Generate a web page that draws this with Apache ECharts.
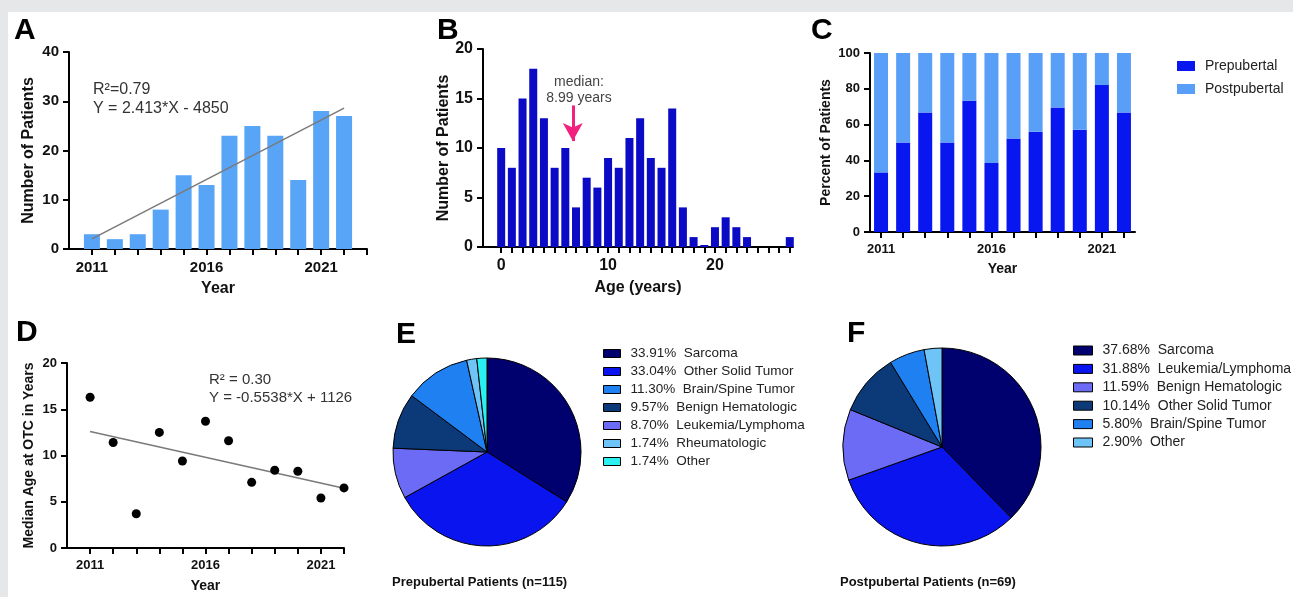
<!DOCTYPE html>
<html><head><meta charset="utf-8">
<script src="https://cdn.jsdelivr.net/npm/echarts@6/dist/echarts.min.js"></script>
<style>html,body{margin:0;padding:0;background:#fff}#c{width:1293px;height:597px}</style>
</head><body><div id="c"></div>
<script>
// ---------- data ----------
const years = [2011,2012,2013,2014,2015,2016,2017,2018,2019,2020,2021,2022];
const patientsPerYear = [3,2,3,8,15,13,23,25,23,14,28,27];
const ages = [0,1,2,3,4,5,6,7,8,9,10,11,12,13,14,15,16,17,18,19,20,21,22,23,24,25,26,27];
const ageCounts = [10,8,15,18,13,8,10,4,7,6,9,8,11,13,9,8,14,4,1,0.2,2,3,2,1,0,0,0,1];
const prepubertalPct = [33.3,50,66.7,50,73.3,38.5,52.2,56,69.6,57.1,82.1,66.7];
const postpubertalPct = [66.7,50,33.3,50,26.7,61.5,47.8,44,30.4,42.9,17.9,33.3];
const medianAge = [16.3,11.4,3.7,12.5,9.4,13.7,11.6,7.1,8.4,8.3,5.4,6.5];
const yearTicks = [2011,2012,2013,2014,2015,2016,2017,2018,2019,2020,2021,2022,2023];
const yearTickLabels = [2011,2016,2021];
const ageTickLabels = [0,10,20];
const medianArrowAge = 6.7;

const preCats = ['Sarcoma','Other Solid Tumor','Leukemia/Lymphoma','Benign Hematologic','Brain/Spine Tumor','Rheumatologic','Other'];
const prePct = [33.91,33.04,8.70,9.57,11.30,1.74,1.74];
const preColors = ['#00006e','#0a14ef','#6b6bf5','#0c3a78','#1f80f2','#6ec4f6','#2af0f2'];
const preLegendOrder = ['Sarcoma','Other Solid Tumor','Brain/Spine Tumor','Benign Hematologic','Leukemia/Lymphoma','Rheumatologic','Other'];

const postCats = ['Sarcoma','Leukemia/Lymphoma','Benign Hematologic','Other Solid Tumor','Brain/Spine Tumor','Other'];
const postPct = [37.68,31.88,11.59,10.14,5.80,2.90];
const postColors = ['#00006e','#0a14ef','#6b6bf5','#0c3a78','#1f80f2','#6ec4f6'];

// ---------- helpers ----------
const FF = 'Arial, "Liberation Sans", Helvetica, sans-serif';
function linreg(xs, ys){
  const n = xs.length; let mx=0,my=0; for(let i=0;i<n;i++){mx+=xs[i];my+=ys[i];} mx/=n; my/=n;
  let sxy=0,sxx=0; for(let i=0;i<n;i++){sxy+=(xs[i]-mx)*(ys[i]-my); sxx+=(xs[i]-mx)*(xs[i]-mx);}
  const b = sxy/sxx; return [b, my-b*mx];
}
const [aS,aI] = linreg(years, patientsPerYear);
const [dS,dI] = linreg(years, medianAge);
const x0 = years[0], x1 = years[years.length-1];

const axLine = {show:true, onZero:false, lineStyle:{color:'#000', width:2}};
const nameStyle = (nfs)=>({color:'#111', fontWeight:'bold', fontSize:nfs, fontFamily:FF});
function xAx(grid, min, max, ticks, labels, name, gap, fs, nfs){
  return {gridIndex:grid, type:'value', min:min, max:max,
    axisLine:axLine,
    axisTick:{show:true, customValues:ticks, length:6, lineStyle:{color:'#000', width:2}},
    axisLabel:{customValues:labels, formatter:v=>String(v), color:'#111', fontWeight:'bold', fontSize:fs, fontFamily:FF, margin:11},
    splitLine:{show:false},
    name:name, nameLocation:'middle', nameGap:gap, nameTextStyle:nameStyle(nfs)};
}
function yAx(grid, min, max, interval, name, gap, fs, nfs){
  return {gridIndex:grid, type:'value', min:min, max:max, interval:interval,
    axisLine:axLine,
    axisTick:{show:true, length:6, lineStyle:{color:'#000', width:2}},
    axisLabel:{formatter:v=>String(v), color:'#111', fontWeight:'bold', fontSize:fs, fontFamily:FF, margin:10},
    splitLine:{show:false},
    name:name, nameLocation:'middle', nameGap:gap, nameTextStyle:nameStyle(nfs)};
}
const zip = (a,b)=>a.map((v,i)=>[v,b[i]]);

const preLabel = {}; preCats.forEach((c,i)=>{preLabel['E|'+c] = prePct[i].toFixed(2)+'%  '+c;});
const postLabel = {}; postCats.forEach((c,i)=>{postLabel['F|'+c] = postPct[i].toFixed(2)+'%  '+c;});

function txt(x,y,s,size,weight,color,align){
  return {type:'text', x:x, y:y, z:100, style:{text:s, fontSize:size, fontWeight:weight||'normal', fontFamily:FF, fill:color||'#000', align:align||'left', verticalAlign:'middle'}};
}

const catYearAxis = {gridIndex:2, type:'category', data:years.map(String), boundaryGap:true,
  axisLine:axLine,
  axisTick:{show:true, alignWithLabel:true, interval:0, length:6, lineStyle:{color:'#000', width:2}},
  axisLabel:{interval:(i,v)=>yearTickLabels.indexOf(Number(v))>=0, color:'#111', fontWeight:'bold', fontSize:13, fontFamily:FF, margin:11},
  splitLine:{show:false},
  name:'Year', nameLocation:'middle', nameGap:30, nameTextStyle:nameStyle(14)};

const option = {
  backgroundColor:'#ffffff',
  animation:false,
  grid:[
    {left:69, top:52, width:298, height:197, outerBoundsMode:'none', containLabel:false},
    {left:483, top:49, width:310, height:198, outerBoundsMode:'none', containLabel:false},
    {left:870, top:53, width:265, height:179, outerBoundsMode:'none', containLabel:false},
    {left:67, top:363, width:277, height:185, outerBoundsMode:'none', containLabel:false}
  ],
  xAxis:[
    xAx(0, 2010, 2023, yearTicks, yearTickLabels, 'Year', 32, 15, 16),
    xAx(1, -1.7, 27.3, ages, ageTickLabels, 'Age (years)', 33, 16, 16),
    catYearAxis,
    xAx(3, 2010, 2022, yearTicks.slice(0,12), yearTickLabels, 'Year', 31, 13, 14)
  ],
  yAxis:[
    yAx(0, 0, 40, 10, 'Number of Patients', 32, 15, 16),
    yAx(1, 0, 20, 5, 'Number of Patients', 28, 16, 16),
    yAx(2, 0, 100, 20, 'Percent of Patients', 37, 13, 14),
    yAx(3, 0, 20, 5, 'Median Age at OTC in Years', 31, 13, 14)
  ],
  legend:[
    {data:['Prepubertal','Postpubertal'], orient:'vertical', left:1177, top:58, padding:0, itemWidth:18, itemHeight:10, itemGap:7,
     icon:'rect', textStyle:{fontSize:14, fontFamily:FF, color:'#222', lineHeight:16, padding:[0,0,0,5]}, selectedMode:false},
    {data:preLegendOrder.map(c=>'E|'+c), orient:'vertical', left:603, top:346, padding:0, itemWidth:17, itemHeight:8, itemGap:3,
     icon:'rect', formatter:n=>preLabel[n], itemStyle:{borderColor:'#000', borderWidth:1},
     textStyle:{fontSize:13.5, fontFamily:FF, color:'#222', lineHeight:15, padding:[0,0,0,5]}, selectedMode:false},
    {data:postCats.map(c=>'F|'+c), orient:'vertical', left:1073, top:343, padding:0, itemWidth:19, itemHeight:9, itemGap:3.4,
     icon:'rect', formatter:n=>postLabel[n], itemStyle:{borderColor:'#000', borderWidth:1},
     textStyle:{fontSize:14, fontFamily:FF, color:'#222', lineHeight:15, padding:[0,0,0,5]}, selectedMode:false}
  ],
  series:[
    {type:'bar', xAxisIndex:0, yAxisIndex:0, data:zip(years, patientsPerYear), barWidth:16,
     itemStyle:{color:'#58a4f7'}, silent:true},
    {type:'line', xAxisIndex:0, yAxisIndex:0, data:[[x0, aS*x0+aI],[x1, aS*x1+aI]], symbol:'none',
     lineStyle:{color:'#7a7a7a', width:1.5}, silent:true, z:5},
    {type:'bar', xAxisIndex:1, yAxisIndex:1, data:zip(ages, ageCounts), barWidth:8,
     itemStyle:{color:'#0b0bc6'}, silent:true,
     markLine:{silent:true, symbol:['none','arrow'], symbolSize:[15,18], animation:false,
       lineStyle:{color:'#f2207e', width:3, type:'solid'}, label:{show:false},
       data:[[{coord:[medianArrowAge,14.3]},{coord:[medianArrowAge,10.7]}]]}},
    {type:'bar', name:'Prepubertal', xAxisIndex:2, yAxisIndex:2, stack:'c', data:prepubertalPct, barWidth:14,
     itemStyle:{color:'#0816f0'}, silent:true},
    {type:'bar', name:'Postpubertal', xAxisIndex:2, yAxisIndex:2, stack:'c', data:postpubertalPct, barWidth:14,
     itemStyle:{color:'#5a9ff7'}, silent:true},
    {type:'scatter', xAxisIndex:3, yAxisIndex:3, data:zip(years, medianAge), symbolSize:9,
     itemStyle:{color:'#000', opacity:1}, silent:true, z:6},
    {type:'line', xAxisIndex:3, yAxisIndex:3, data:[[x0, dS*x0+dI],[x1, dS*x1+dI]], symbol:'none',
     lineStyle:{color:'#7a7a7a', width:1.5}, silent:true, z:4},
    {type:'pie', center:[487,452], radius:94, startAngle:90, clockwise:true, silent:true,
     label:{show:false}, labelLine:{show:false},
     itemStyle:{borderColor:'#000', borderWidth:1},
     data:preCats.map((c,i)=>({name:'E|'+c, value:prePct[i], itemStyle:{color:preColors[i]}}))},
    {type:'pie', center:[942,447], radius:99, startAngle:90, clockwise:true, silent:true,
     label:{show:false}, labelLine:{show:false},
     itemStyle:{borderColor:'#000', borderWidth:1},
     data:postCats.map((c,i)=>({name:'F|'+c, value:postPct[i], itemStyle:{color:postColors[i]}}))}
  ],
  graphic:[
    {type:'rect', shape:{x:0,y:0,width:1293,height:12}, style:{fill:'#e6e7e9'}, z:0, silent:true},
    {type:'rect', shape:{x:0,y:0,width:8,height:597}, style:{fill:'#e6e7e9'}, z:0, silent:true},
    txt(14,31,'A',30,'bold'),
    txt(437,31,'B',30,'bold'),
    txt(811,31,'C',30,'bold'),
    txt(16,333,'D',30,'bold'),
    txt(396,335,'E',30,'bold'),
    txt(847,334,'F',30,'bold'),
    txt(93,90,'R²=0.79',16,'normal','#333'),
    txt(93,109,'Y = 2.413*X - 4850',16,'normal','#333'),
    txt(579,82,'median:',14,'normal','#444','center'),
    txt(579,98,'8.99 years',14,'normal','#444','center'),
    txt(209,380,'R² = 0.30',15,'normal','#333'),
    txt(209,398,'Y = -0.5538*X + 1126',15,'normal','#333'),
    txt(392,582,'Prepubertal Patients (n=115)',13,'bold','#111'),
    txt(840,582,'Postpubertal Patients (n=69)',13,'bold','#111')
  ]
};
const chart = echarts.init(document.getElementById('c'), null, {renderer:'canvas'});
chart.setOption(option);
</script></body></html>
